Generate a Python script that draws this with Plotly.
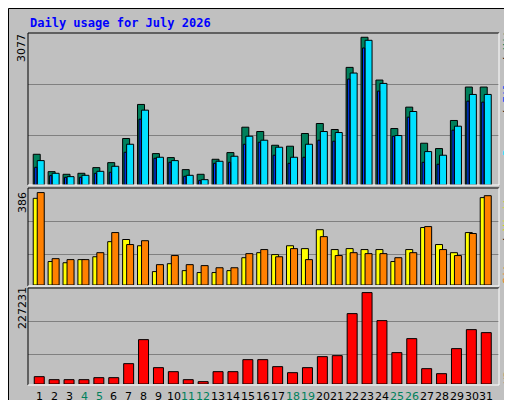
import plotly.graph_objects as go

days = list(range(1, 32))
weekends = [4, 5, 11, 12, 18, 19, 25, 26]
hits = [640,278,223,244,362,466,968,1678,654,571,320,223,536,675,1204,1114,828,808,1072,1281,1156,2450,3077,2186,1176,1622,870,759,1344,2040,2040]
files = [508,244,174,202,285,390,849,1559,578,508,202,111,494,599,1016,933,787,578,849,1114,1093,2332,3014,2116,1030,1531,696,620,1225,1886,1886]
pages = [369,195,160,160,244,265,682,1371,557,473,181,97,452,473,849,891,620,452,578,933,912,2207,2854,1956,1016,1413,473,432,1142,1747,1726]
visits = [362,98,93,106,118,181,190,164,56,89,60,52,52,60,114,135,127,164,152,231,148,152,148,148,98,148,240,169,135,219,365]
sites = [386,110,106,106,135,219,169,185,85,123,85,81,72,72,131,148,118,152,106,202,123,135,131,131,114,135,244,148,123,215,373]
kbytes = [18245,10781,10781,10781,15757,15757,50587,110297,40636,30684,10781,5805,30684,30684,60539,60539,43124,28196,40636,68003,70491,174982,227231,157567,77954,112785,38148,25708,87906,135176,127712]

C_HITS, C_FILES, C_PAGES = "#00805c", "#0040ff", "#00e0ff"
C_VIS, C_SITES, C_KB = "#ffff00", "#ff8000", "#ff0000"
W, H = 512, 400
def px(x): return x / W
def py(y): return 1 - y / H

fig = go.Figure()
line = dict(color="black", width=1)
def bar(y, color, off, wid, ax):
    fig.add_trace(go.Bar(x=days, y=y, marker=dict(color=color, line=line),
                         offset=off, width=wid, xaxis="x" + ax, yaxis="y" + ax,
                         hoverinfo="skip", showlegend=False))
bar(hits, C_HITS, -0.52, 0.47, "")
bar(files, C_PAGES, -0.25, 0.47, "")
bar(pages, C_FILES, -0.42, 0.15, "")
bar(visits, C_VIS, -0.52, 0.47, "2")
bar(sites, C_SITES, -0.25, 0.47, "2")
bar(kbytes, C_KB, -0.45, 0.67, "3")

xr = [0.13, 31.74]
dom = [px(20), px(491)]
xcommon = dict(domain=dom, range=xr, showticklabels=False, showgrid=False, zeroline=False, automargin=False)
ycommon = dict(showticklabels=False, gridcolor="#808080", zeroline=False, automargin=False)
fig.update_layout(
    width=W, height=H, margin=dict(l=0, r=0, t=0, b=0, autoexpand=False),
    paper_bgcolor="#c0c0c0", plot_bgcolor="#c0c0c0", barmode="overlay",
    font=dict(family="DejaVu Sans", size=11, color="black"),
    xaxis=dict(anchor="y", **xcommon),
    xaxis2=dict(anchor="y2", **xcommon),
    xaxis3=dict(anchor="y3", **xcommon),
    yaxis=dict(domain=[py(177), py(25)], range=[0, 3166], tickvals=[1030, 2095], **ycommon),
    yaxis2=dict(domain=[py(277), py(181)], range=[0, 401], tickvals=[127, 265], **ycommon),
    yaxis3=dict(domain=[py(376), py(281)], range=[0, 236180], tickvals=[72978, 155079], **ycommon),
)
shapes = [
    dict(type="rect", xref="paper", yref="paper", x0=px(506), x1=px(510), y0=py(398), y1=py(2),
         fillcolor="#808080", line=dict(width=0)),
    dict(type="rect", xref="paper", yref="paper", x0=px(2), x1=px(510), y0=py(398), y1=py(394),
         fillcolor="#808080", line=dict(width=0)),
    dict(type="rect", xref="paper", yref="paper", x0=px(0.5), x1=px(511.5), y0=py(399.5), y1=py(0.5),
         line=dict(color="black", width=1)),
]
for top, bot in [(25, 177), (180, 278), (280, 377)]:
    shapes.append(dict(type="line", xref="paper", yref="paper", x0=px(20), x1=px(491), y0=py(top), y1=py(top),
                       line=dict(color="black", width=1)))
    shapes.append(dict(type="line", xref="paper", yref="paper", x0=px(20), x1=px(20), y0=py(top), y1=py(bot),
                       line=dict(color="black", width=1)))
    shapes.append(dict(type="line", xref="paper", yref="paper", x0=px(20), x1=px(491), y0=py(bot), y1=py(bot),
                       line=dict(color="white", width=1)))
    shapes.append(dict(type="line", xref="paper", yref="paper", x0=px(491), x1=px(491), y0=py(top), y1=py(bot),
                       line=dict(color="white", width=1)))
fig.update_layout(shapes=shapes)

def ann(x, y, text, angle=0, size=11, color="black", fam="DejaVu Sans", xa="center", ya="middle"):
    fig.add_annotation(x=px(x), y=py(y), xref="paper", yref="paper", text=text, textangle=angle,
                       showarrow=False, font=dict(size=size, color=color, family=fam),
                       xanchor=xa, yanchor=ya)
ann(20, 15, "<b>Daily usage for July 2026</b>", size=12, color="#0000ff", fam="DejaVu Sans Mono", xa="left")
ann(14, 40, "3077", angle=-90)
ann(14, 195, "386", angle=-90)
ann(14, 300, "227231", angle=-90)
ann(500, 82, f"<span style='color:{C_PAGES}'>Pages</span> / <span style='color:{C_FILES}'>Files</span> / <span style='color:{C_HITS}'>Hits</span>",
    angle=-90, fam="DejaVu Sans Mono")
ann(500, 230, f"<span style='color:{C_SITES}'>Sites</span> / <span style='color:#e0e000'>Visits</span>",
    angle=-90, fam="DejaVu Sans Mono")
ann(500, 356, "KBytes", angle=-90, fam="DejaVu Sans Mono", color=C_KB)

for d in days:
    fig.add_annotation(x=d - 0.1, y=py(388), xref="x3", yref="paper", text=str(d), showarrow=False,
                       font=dict(size=11, color=C_HITS if d in weekends else "black"),
                       xanchor="center", yanchor="middle")

fig.write_html("out.html")
